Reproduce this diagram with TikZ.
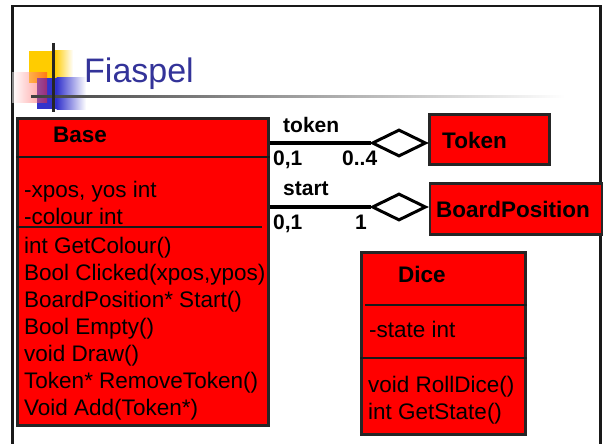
\documentclass[tikz,border=0pt]{standalone}
\usepackage{fontspec}
\setmainfont{Liberation Sans}
\usetikzlibrary{shapes.geometric}
\definecolor{umlred}{RGB}{255,0,0}
\definecolor{titleblue}{RGB}{51,51,153}
\definecolor{logoyellow}{RGB}{255,204,0}
\definecolor{logoblue}{RGB}{51,51,204}
\definecolor{logored}{RGB}{255,40,40}

\begin{document}
\begin{tikzpicture}[x=1pt,y=-1pt,
  classbox/.style={draw=black!85, line width=2.5pt, fill=umlred, inner sep=0pt, anchor=north west},
  divider/.style={draw=black!90, line width=2.5pt},
  member/.style={anchor=base west, inner sep=0pt, font=\fontsize{22.5}{27}\selectfont},
  classname/.style={anchor=base west, inner sep=0pt, font=\fontsize{22.5}{27}\selectfont\bfseries},
  role/.style={anchor=base west, inner sep=0pt, font=\fontsize{21}{25}\selectfont\bfseries},
  link/.style={line width=3.5pt},
  aggr/.style={diamond, draw, line width=3pt, fill=white, minimum width=54pt, minimum height=27pt, inner sep=0pt}]
\useasboundingbox (0,0) rectangle (605,444);
\fill[white] (0,0) rectangle (605,444);

% slide frame
\draw[line width=2.2pt, black!90] (12.5,444) -- (12.5,6) -- (600.5,6) -- (600.5,444);

% logo squares
\fill[logoyellow] (29,51) rectangle (55,83);
\shade[left color=logoyellow, right color=white] (54.5,51) rectangle (73,83);
\fill[logoblue] (37,78) rectangle (57,109);
\shade[left color=logoblue, right color=white] (56.5,78) rectangle (86,109);
\shade[left color=white, right color=logored, opacity=0.5] (12,73) rectangle (47,102);
% title rule and logo cross
\shade[left color=black!75, right color=white] (31,95) rectangle (565,97.2);
\draw[line width=3pt, black!85] (53,43) -- (53,112);

\node[anchor=base west, inner sep=0pt, text=titleblue, font=\fontsize{34}{40}\selectfont] (title) at (84,82) {Fiaspel};

% class Base
\node[classbox, minimum width=251pt, minimum height=307pt] (base) at (16,117) {};
\draw[divider] (base.west |- 0,157) -- (base.east |- 0,157);
\draw[divider] (17,227) -- (262,227);
\node[classname] (basename) at (53,142) {Base};
\node[member] (a1) at (24,197) {-xpos, yos int};
\node[member] (a2) at (24,224) {-colour int};
\node[member] (m1) at (24,253) {int GetColour()};
\node[member] (m2) at (24,280) {Bool Clicked(xpos,ypos)};
\node[member] (m3) at (24,307) {BoardPosition* Start()};
\node[member] (m4) at (24,334) {Bool Empty()};
\node[member] (m5) at (24,361) {void Draw()};
\node[member] (m6) at (24,388) {Token* RemoveToken()};
\node[member] (m7) at (24,415) {Void Add(Token*)};

% class Token
\node[classbox, minimum width=120pt, minimum height=50pt] (token) at (428,113) {};
\node[classname] (tokenname) at (442,148) {Token};

% class BoardPosition
\node[classbox, minimum width=172pt, minimum height=51pt] (bpos) at (428.5,182) {};
\node[classname] (bposname) at (436,217) {BoardPosition};

% aggregations
\node[aggr] (dt) at (399,143) {};
\node[aggr] (ds) at (399,207) {};
\draw[link] (dt.west -| base.east) -- (dt.west);
\draw[link] (ds.west -| base.east) -- (ds.west);
\node[role] (ltoken) at (283,132) {token};
\node[role] (lt1) at (273,165) {0,1};
\node[role] (lt2) at (342,165) {0..4};
\node[role] (lstart) at (283,195) {start};
\node[role] (ls1) at (273,229) {0,1};
\node[role] (ls2) at (355,229) {1};

% class Dice
\node[classbox, minimum width=164pt, minimum height=182pt] (dice) at (360,251) {};
\draw[divider] (365,305) -- (527,305);
\draw[divider] (dice.west |- 0,358) -- (dice.east |- 0,358);
\node[classname] (dicename) at (398,282) {Dice};
\node[member] (d1) at (369,337) {-state int};
\node[member] (d2) at (368,392) {void RollDice()};
\node[member] (d3) at (368,419) {int GetState()};
\end{tikzpicture}
\end{document}
